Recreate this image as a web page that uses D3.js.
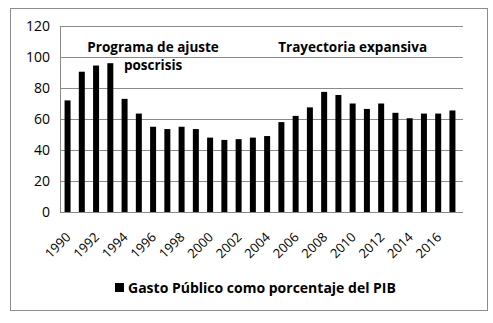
<!DOCTYPE html>
<html>
<head>
<meta charset="utf-8">
<style>
  body { margin: 0; background: #fff; }
  svg text { font-family: "Open Sans", "Noto Sans", sans-serif; fill: #000; }
</style>
<script src="https://d3js.org/d3.v7.min.js"></script>
</head>
<body>
<svg width="493" height="323"></svg>
<script>
var years = d3.range(1990, 2018);
var gasto = [72, 90.5, 94.5, 96, 73, 63.5, 55, 53.5, 55, 53.5, 48, 46.5, 47, 48,
             49, 58, 62, 67.5, 77.5, 75.5, 70, 66.5, 70, 64, 60.5, 63.5, 63.5, 65.5];
var yTicks = [0, 20, 40, 60, 80, 100, 120];
var seriesName = "Gasto Público como porcentaje del PIB";
var notes = [
  {lines: ["Programa de ajuste", "poscrisis"], from: 1990, to: 2002},
  {lines: ["Trayectoria expansiva"], from: 2004, to: 2016}
];

function draw() {
  var svg = d3.select("svg");

  // chart border
  svg.append("rect")
    .attr("x", 10.5).attr("y", 8.5)
    .attr("width", 477).attr("height", 302)
    .attr("fill", "#fff").attr("stroke", "#8c8c8c");

  var plot = {left: 60, right: 463, top: 26, bottom: 212};

  var x = d3.scaleBand().domain(years).range([plot.left + 1, plot.right - 4]).paddingInner(0.58).paddingOuter(0.25);
  var y = d3.scaleLinear().domain([0, 120]).range([plot.bottom, plot.top]);

  // gridlines
  svg.append("g")
    .selectAll("line").data(yTicks).join("line")
    .attr("x1", plot.left).attr("x2", plot.right)
    .attr("y1", function(d) { return Math.round(y(d)) + 0.5; })
    .attr("y2", function(d) { return Math.round(y(d)) + 0.5; })
    .attr("stroke", "#8a8a8a").attr("stroke-width", 1);

  svg.append("line")
    .attr("x1", plot.left + 0.5).attr("x2", plot.left + 0.5)
    .attr("y1", plot.top).attr("y2", plot.bottom)
    .attr("stroke", "#8a8a8a");

  // y axis labels
  var yAxis = svg.append("g")
    .attr("transform", "translate(" + (plot.left - 10) + ",0)")
    .call(d3.axisLeft(y).tickValues(yTicks).tickSize(0).tickPadding(0));
  yAxis.select(".domain").remove();
  yAxis.selectAll("text").attr("font-size", 14).attr("fill", "#000");

  // bars
  svg.append("g")
    .selectAll("rect").data(gasto).join("rect")
    .attr("x", function(d, i) { return x(years[i]); })
    .attr("width", x.bandwidth())
    .attr("y", function(d) { return y(d); })
    .attr("height", function(d) { return y(0) - y(d); })
    .attr("fill", "#000");

  // x axis labels (every other year)
  var xAxis = svg.append("g")
    .attr("transform", "translate(0," + plot.bottom + ")")
    .call(d3.axisBottom(x).tickValues(years.filter(function(d) { return d % 2 === 0; })).tickSize(0).tickPadding(0));
  xAxis.select(".domain").remove();
  xAxis.selectAll("text")
    .attr("font-size", 13)
    .attr("fill", "#000")
    .attr("text-anchor", "end")
    .attr("y", 0)
    .attr("dy", null)
    .attr("transform", "translate(4,26) rotate(-45)");

  // annotations
  notes.forEach(function(n) {
    var cx = (x(n.from) + x(n.to) + x.bandwidth()) / 2;
    n.lines.forEach(function(t, i) {
      svg.append("text")
        .attr("x", cx)
        .attr("y", 52 + i * 18)
        .attr("text-anchor", "middle")
        .attr("font-size", 13.5)
        .attr("font-weight", "bold")
        .text(t);
    });
  });

  // legend
  var lg = svg.append("g").attr("transform", "translate(115,283)");
  lg.append("rect").attr("width", 9).attr("height", 9).attr("fill", "#000");
  lg.append("text").attr("x", 13).attr("y", 9.5)
    .attr("font-size", 14).attr("font-weight", "bold")
    .text(seriesName);
}

draw();
</script>
</body>
</html>
